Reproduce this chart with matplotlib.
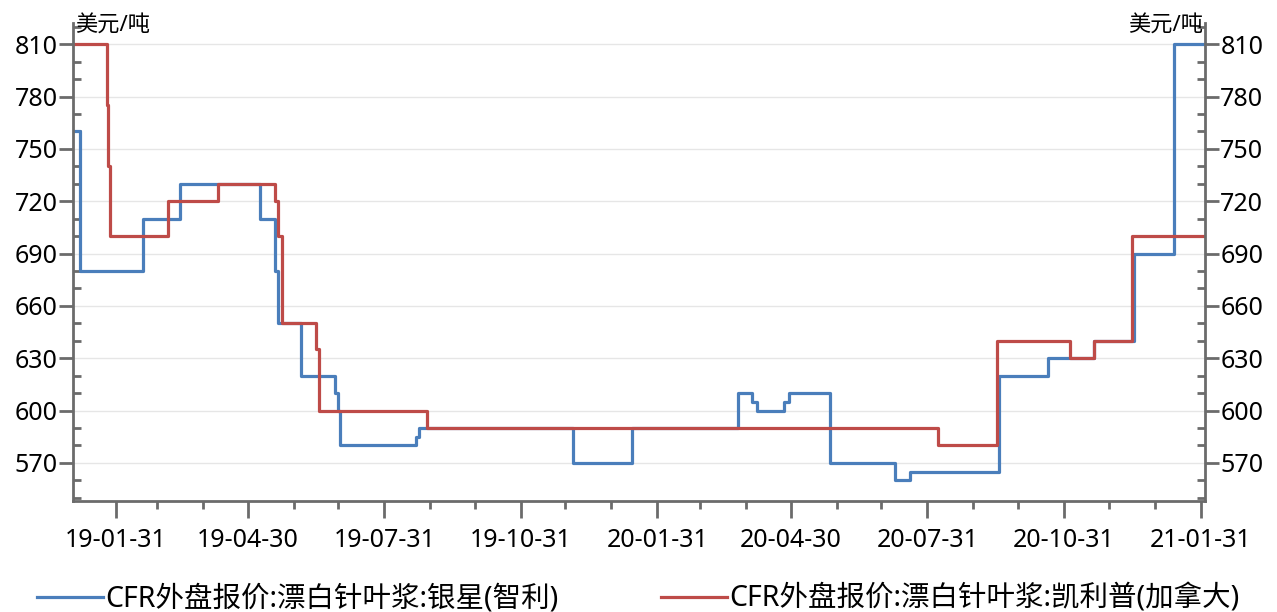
import pandas as pd
import matplotlib.pyplot as plt
import matplotlib.dates as mdates
from matplotlib.ticker import MultipleLocator

plt.rcParams['font.family'] = ['Noto Sans', 'Noto Sans CJK SC', 'DejaVu Sans']

# 银星(智利) step series
chile_dates = ['2019-01-03', '2019-01-07', '2019-02-18', '2019-03-15', '2019-05-08',
               '2019-05-18', '2019-05-20', '2019-06-05', '2019-06-28', '2019-06-30',
               '2019-07-01', '2019-08-21', '2019-08-23', '2019-12-05', '2020-01-14',
               '2020-03-25', '2020-04-04', '2020-04-07', '2020-04-25', '2020-04-29',
               '2020-05-26', '2020-07-09', '2020-07-19', '2020-09-17', '2020-10-20',
               '2020-11-20', '2020-12-17', '2021-01-13', '2021-02-03']
chile_vals = [760, 680, 710, 730, 710,
              680, 650, 620, 610, 600,
              580, 585, 590, 570, 590,
              610, 605, 600, 605, 610,
              570, 560, 565, 620, 630,
              640, 690, 810, 810]

# 凯利普(加拿大) step series
canada_dates = ['2019-01-02', '2019-01-25', '2019-01-26', '2019-01-27', '2019-03-07',
                '2019-04-10', '2019-05-18', '2019-05-20', '2019-05-23', '2019-06-15',
                '2019-06-17', '2019-08-29', '2020-08-07', '2020-09-16', '2020-11-04',
                '2020-11-20', '2020-12-16', '2021-02-03']
canada_vals = [810, 775, 740, 700, 720,
               730, 720, 700, 650, 635,
               600, 590, 580, 640, 630,
               640, 700, 700]

label_chile = 'CFR外盘报价:漂白针叶浆:银星(智利)'
label_canada = 'CFR外盘报价:漂白针叶浆:凯利普(加拿大)'
unit = '美元/吨'

blue = '#4a7ebb'
red = '#be4b48'
axis_grey = '#6b6b6b'

fig = plt.figure(figsize=(12.77, 6.12), dpi=100)
ax = fig.add_axes([0.057, 0.181, 0.8866, 0.781])

l1, = ax.plot(pd.to_datetime(chile_dates), chile_vals, drawstyle='steps-post',
              color=blue, lw=2.3, label=label_chile)
l2, = ax.plot(pd.to_datetime(canada_dates), canada_vals, drawstyle='steps-post',
              color=red, lw=2.3, label=label_canada)

ax.set_xlim(pd.Timestamp('2019-01-02'), pd.Timestamp('2021-02-03'))
ax.set_ylim(548, 822)

ax.yaxis.set_minor_locator(MultipleLocator(10))
ax.set_yticks(range(570, 811, 30))
ax.xaxis.set_major_locator(mdates.MonthLocator(bymonth=[1, 4, 7, 10], bymonthday=-1))
ax.xaxis.set_minor_locator(mdates.MonthLocator(bymonthday=-1))
ax.xaxis.set_major_formatter(mdates.DateFormatter('%y-%m-%d'))

ax.grid(axis='y', color='#e6e6e6', lw=1)
ax.set_axisbelow(True)

ax.spines['top'].set_visible(False)
for s in ['left', 'right', 'bottom']:
    ax.spines[s].set_color(axis_grey)
    ax.spines[s].set_linewidth(2)

ax.tick_params(axis='y', which='major', direction='out', length=10, width=2,
               color=axis_grey, labelsize=18, left=True, right=True,
               labelleft=True, labelright=True, pad=1)
ax.tick_params(axis='y', which='minor', direction='in', length=6, width=2,
               color=axis_grey, left=True, right=True)
ax.tick_params(axis='x', which='major', direction='out', length=12, width=2,
               color=axis_grey, labelsize=18, pad=7)
ax.tick_params(axis='x', which='minor', direction='out', length=6, width=2,
               color=axis_grey)

ax.text(0.002, 0.993, unit, transform=ax.transAxes, ha='left', va='center', fontsize=16)
ax.text(0.998, 0.993, unit, transform=ax.transAxes, ha='right', va='center', fontsize=16)

fig.legend(handles=[l1, l2], loc='lower center', bbox_to_anchor=(0.5, -0.045),
           ncol=2, frameon=False, fontsize=20.5, handlelength=2.3, handletextpad=0.1,
           columnspacing=3.6)

plt.savefig('out.png', dpi=100)
